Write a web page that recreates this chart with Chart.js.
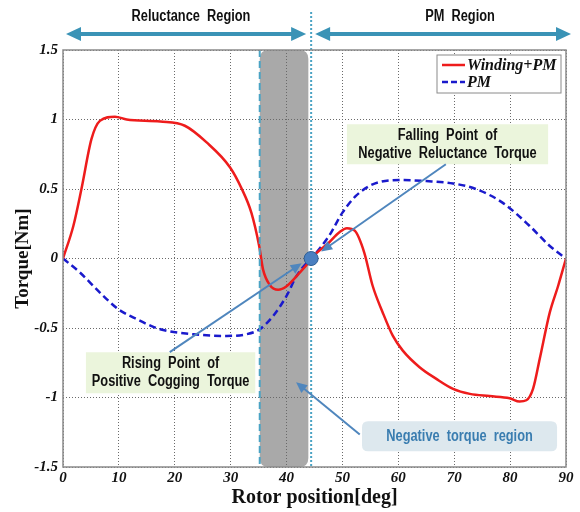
<!DOCTYPE html>
<html lang="en">
<head>
<meta charset="UTF-8">
<title>Torque vs rotor position</title>
<style>
  body { margin: 0; background: #fff; }
  #chart { display: block; }
</style>
</head>
<body>
<canvas id="chart" width="580" height="512"></canvas>
<script src="https://cdn.jsdelivr.net/npm/chart.js"></script>
<script>
// --- data ---
const windingPmAngle  = [0, 1.85, 3.3, 5.1, 6.6, 9.3, 11.4, 17.4, 21.8, 25.7, 29.9, 32.0, 33.7, 35.1, 35.8, 37.0, 38.5, 40.0, 42.4, 43.9, 44.4, 47.6, 49.4, 50.8, 52.2, 53.9, 55.4, 57.2, 59.0, 60.8, 63.8, 66.8, 69.8, 72.8, 76.3, 79.9, 81.7, 82.9, 84.1, 85.3, 87.1, 88.6, 90];
const windingPmTorque = [0, 0.234, 0.5, 0.86, 0.99, 1.02, 1.0, 0.985, 0.955, 0.835, 0.655, 0.5, 0.33, 0.09, -0.08, -0.19, -0.225, -0.2, -0.1, -0.03, 0, 0.115, 0.187, 0.218, 0.2, 0.043, -0.196, -0.388, -0.555, -0.663, -0.782, -0.866, -0.938, -0.974, -0.99, -1.005, -1.029, -1.02, -0.938, -0.722, -0.388, -0.196, 0];

const pmAngle  = [0, 3.0, 6.6, 9.9, 13.2, 17.4, 23.3, 29.3, 32.8, 35.2, 37.6, 40.0, 41.8, 43.9, 44.4, 47.6, 50.0, 52.4, 55.4, 60.2, 65.0, 69.8, 74.0, 78.7, 83.5, 87.1, 90];
const pmTorque = [0, -0.1, -0.245, -0.365, -0.437, -0.509, -0.545, -0.557, -0.545, -0.509, -0.413, -0.269, -0.125, -0.02, 0, 0.163, 0.33, 0.45, 0.533, 0.565, 0.557, 0.54, 0.498, 0.40, 0.234, 0.09, 0];

const seriesNames = ['Winding+PM', 'PM'];
const xTickValues = [0, 10, 20, 30, 40, 50, 60, 70, 80, 90];
const yTickValues = [-1.5, -1, -0.5, 0, 0.5, 1, 1.5];

// region boundaries (deg) and annotation anchors (deg, Nm)
const regionBoundary = 44.4;
const shadedRegion = [35.2, 43.9];
const crossingPoint = [44.4, 0];

const serif = '"Liberation Serif", "Times New Roman", serif';
const sans = '"Liberation Sans", Arial, sans-serif';

function toPoints(xs, ys) {
    return xs.map((x, i) => ({ x: x, y: ys[i] }));
}

// Arial Narrow look-alike: Arial squeezed horizontally
function narrowText(ctx, s, x, y, size, color) {
    ctx.save();
    ctx.font = 'bold ' + size + 'px ' + sans;
    ctx.fillStyle = color;
    ctx.textAlign = 'center';
    ctx.textBaseline = 'middle';
    ctx.translate(x, y);
    ctx.scale(0.8, 1);
    ctx.fillText(s, 0, 0);
    ctx.restore();
}

function arrowHead(ctx, x1, y1, x2, y2, len, half) {
    const a = Math.atan2(y2 - y1, x2 - x1);
    ctx.beginPath();
    ctx.moveTo(x2, y2);
    ctx.lineTo(x2 - len * Math.cos(a) + half * Math.sin(a), y2 - len * Math.sin(a) - half * Math.cos(a));
    ctx.lineTo(x2 - len * Math.cos(a) - half * Math.sin(a), y2 - len * Math.sin(a) + half * Math.cos(a));
    ctx.closePath();
    ctx.fill();
}

function arrow(ctx, x1, y1, x2, y2, color, width, len, half) {
    const a = Math.atan2(y2 - y1, x2 - x1);
    ctx.save();
    ctx.strokeStyle = color;
    ctx.fillStyle = color;
    ctx.lineWidth = width;
    ctx.beginPath();
    ctx.moveTo(x1, y1);
    ctx.lineTo(x2 - len * 0.8 * Math.cos(a), y2 - len * 0.8 * Math.sin(a));
    ctx.stroke();
    arrowHead(ctx, x1, y1, x2, y2, len, half);
    ctx.restore();
}

function doubleArrow(ctx, x1, x2, y, color) {
    ctx.save();
    ctx.strokeStyle = color;
    ctx.fillStyle = color;
    ctx.lineWidth = 4;
    ctx.beginPath();
    ctx.moveTo(x1 + 10, y);
    ctx.lineTo(x2 - 10, y);
    ctx.stroke();
    arrowHead(ctx, x2, y, x1, y, 15, 7);
    arrowHead(ctx, x1, y, x2, y, 15, 7);
    ctx.restore();
}

function roundRect(ctx, x, y, w, h, r) {
    ctx.beginPath();
    ctx.moveTo(x + r, y);
    ctx.lineTo(x + w - r, y);
    ctx.quadraticCurveTo(x + w, y, x + w, y + r);
    ctx.lineTo(x + w, y + h - r);
    ctx.quadraticCurveTo(x + w, y + h, x + w - r, y + h);
    ctx.lineTo(x + r, y + h);
    ctx.quadraticCurveTo(x, y + h, x, y + h - r);
    ctx.lineTo(x, y + r);
    ctx.quadraticCurveTo(x, y, x + r, y);
    ctx.closePath();
}

function textBox(ctx, xs, ys, x1, x2, y1, y2, fill, radius, lines, color) {
    const l = xs.getPixelForValue(x1), r = xs.getPixelForValue(x2);
    const t = ys.getPixelForValue(y1), b = ys.getPixelForValue(y2);
    ctx.save();
    ctx.fillStyle = fill;
    roundRect(ctx, l, t, r - l, b - t, radius);
    ctx.fill();
    ctx.restore();
    const cx = (l + r) / 2, cy = (t + b) / 2;
    lines.forEach((s, i) => {
        narrowText(ctx, s, cx, cy + (i - (lines.length - 1) / 2) * 18, 16, color);
    });
}

const behindPlugin = {
    id: 'behind',
    beforeDraw(chart) {
        const { ctx, chartArea: ca } = chart;
        const xs = chart.scales.x;
        const l = xs.getPixelForValue(shadedRegion[0]);
        const r = xs.getPixelForValue(shadedRegion[1]);
        ctx.save();
        ctx.fillStyle = '#a9a9a9';
        roundRect(ctx, l, ca.top, r - l, ca.bottom - ca.top, 9);
        ctx.fill();
        ctx.restore();
    }
};

const overlayPlugin = {
    id: 'overlay',
    afterDatasetsDraw(chart) {
        const { ctx, chartArea: ca } = chart;
        const xs = chart.scales.x, ys = chart.scales.y;
        const X = v => xs.getPixelForValue(v);
        const Y = v => ys.getPixelForValue(v);

        // dashed / dotted teal borders of the shaded band
        ctx.save();
        ctx.strokeStyle = '#4aa3c4';
        ctx.lineWidth = 2;
        ctx.setLineDash([7, 4]);
        ctx.beginPath();
        ctx.moveTo(X(shadedRegion[0]), ca.top);
        ctx.lineTo(X(shadedRegion[0]), ca.bottom);
        ctx.stroke();
        ctx.setLineDash([2, 2]);
        ctx.beginPath();
        ctx.moveTo(X(regionBoundary), 12);
        ctx.lineTo(X(regionBoundary), ca.bottom);
        ctx.stroke();
        ctx.restore();

        // plot frame
        ctx.save();
        ctx.strokeStyle = '#8a8a8a';
        ctx.lineWidth = 1.5;
        ctx.strokeRect(ca.left, ca.top, ca.right - ca.left, ca.bottom - ca.top);
        ctx.restore();

        // callout boxes
        textBox(ctx, xs, ys, 50.8, 86.8, 0.966, 0.678, '#ebf5dc', 0, ['Falling  Point  of', 'Negative  Reluctance  Torque'], '#111');
        textBox(ctx, xs, ys, 4.1, 34.4, -0.674, -0.969, '#ebf5dc', 0, ['Rising  Point  of', 'Positive  Cogging  Torque'], '#111');
        textBox(ctx, xs, ys, 53.5, 88.4, -1.17, -1.386, '#dde8ee', 6, ['Negative  torque  region'], '#3a7db0');

        // callout arrows
        const ac = '#4f86bd';
        arrow(ctx, X(68.5), Y(0.678), X(46.2), Y(0.05), ac, 2, 11, 5);
        arrow(ctx, X(19.1), Y(-0.674), X(42.7), Y(-0.035), ac, 2, 11, 5);
        arrow(ctx, X(53.1), Y(-1.266), X(41.7), Y(-0.89), ac, 2, 11, 5);

        // crossing point marker
        ctx.save();
        ctx.beginPath();
        ctx.arc(X(crossingPoint[0]), Y(crossingPoint[1]), 7, 0, Math.PI * 2);
        ctx.fillStyle = '#4a7fc0';
        ctx.fill();
        ctx.strokeStyle = '#2f5f95';
        ctx.lineWidth = 1;
        ctx.stroke();
        ctx.restore();

        // legend
        const lx = 437, ly = 55, lw = 124, lh = 38;
        ctx.save();
        ctx.fillStyle = '#fff';
        ctx.fillRect(lx, ly, lw, lh);
        ctx.strokeStyle = '#8a8a8a';
        ctx.lineWidth = 1;
        ctx.strokeRect(lx, ly, lw, lh);
        const colors = ['#ee1c1c', '#1a1acc'];
        const dashes = [[], [6, 3]];
        seriesNames.forEach((name, i) => {
            const yy = ly + 10 + i * 17;
            ctx.strokeStyle = colors[i];
            ctx.lineWidth = 2.5;
            ctx.setLineDash(dashes[i]);
            ctx.beginPath();
            ctx.moveTo(lx + 5, yy);
            ctx.lineTo(lx + 28, yy);
            ctx.stroke();
            ctx.setLineDash([]);
            ctx.fillStyle = '#111';
            ctx.font = 'italic bold 16px ' + serif;
            ctx.textAlign = 'left';
            ctx.textBaseline = 'middle';
            ctx.fillText(name, lx + 30, yy + 1);
        });
        ctx.restore();
    },
    afterDraw(chart) {
        const { ctx, chartArea: ca } = chart;
        const xs = chart.scales.x;
        const b = xs.getPixelForValue(regionBoundary);
        const teal = '#3a93b6';
        doubleArrow(ctx, ca.left + 3, b - 5, 34, teal);
        doubleArrow(ctx, b + 4, 571, 34, teal);
        narrowText(ctx, 'Reluctance  Region', 191, 17, 16, '#111');
        narrowText(ctx, 'PM  Region', 460, 17, 16, '#111');
    }
};

const chart = new Chart(document.getElementById('chart').getContext('2d'), {
    type: 'line',
    data: {
        datasets: [
            {
                label: seriesNames[0],
                data: toPoints(windingPmAngle, windingPmTorque),
                borderColor: '#ee1c1c',
                borderWidth: 2.5,
                pointRadius: 0,
                cubicInterpolationMode: 'monotone',
                fill: false
            },
            {
                label: seriesNames[1],
                data: toPoints(pmAngle, pmTorque),
                borderColor: '#1a1acc',
                borderWidth: 2.5,
                borderDash: [7, 4],
                pointRadius: 0,
                cubicInterpolationMode: 'monotone',
                fill: false
            }
        ]
    },
    options: {
        responsive: false,
        animation: false,
        devicePixelRatio: 1,
        layout: { padding: { top: 50, right: 14, left: 0, bottom: 0 } },
        plugins: {
            legend: { display: false },
            tooltip: { enabled: false }
        },
        scales: {
            x: {
                type: 'linear',
                min: 0,
                max: 90,
                afterBuildTicks: s => { s.ticks = xTickValues.map(v => ({ value: v })); },
                afterFit: s => { s.height = 45; },
                ticks: {
                    padding: 2,
                    color: '#111',
                    font: { family: serif, size: 15, style: 'italic', weight: 'bold' },
                    maxRotation: 0,
                    callback: v => String(v)
                },
                grid: { color: '#6a6a6a', lineWidth: 1, drawTicks: false },
                border: { display: false, dash: [1, 2] },
                title: {
                    display: true,
                    text: 'Rotor position[deg]',
                    color: '#111',
                    font: { family: serif, size: 20, weight: 'bold' },
                    padding: { top: 0, bottom: 2 }
                }
            },
            y: {
                min: -1.5,
                max: 1.5,
                afterBuildTicks: s => { s.ticks = yTickValues.map(v => ({ value: v })); },
                afterFit: s => { s.width = 63; },
                ticks: {
                    padding: 5,
                    color: '#111',
                    font: { family: serif, size: 15, style: 'italic', weight: 'bold' },
                    callback: v => String(Math.round(v * 10) / 10)
                },
                grid: { color: '#6a6a6a', lineWidth: 1, drawTicks: false },
                border: { display: false, dash: [1, 2] },
                title: {
                    display: true,
                    text: 'Torque[Nm]',
                    color: '#111',
                    font: { family: serif, size: 19, weight: 'bold' },
                    padding: { top: 12, bottom: 0 }
                }
            }
        }
    },
    plugins: [behindPlugin, overlayPlugin]
});
</script>
</body>
</html>
